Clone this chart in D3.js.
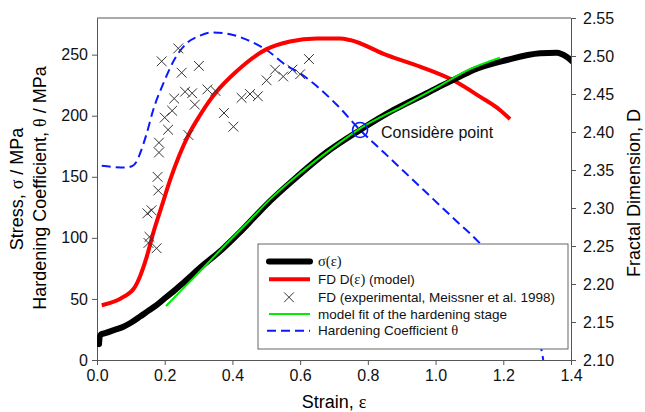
<!DOCTYPE html>
<html>
<head>
<meta charset="utf-8">
<script src="https://cdn.jsdelivr.net/npm/d3@7"></script>
<style>
  body { margin: 0; background: #fff; }
  svg { font-family: "Liberation Sans", Arial, sans-serif; }
  .axis path, .axis line { stroke: #555; }
  .axis text { fill: #111; font-size: 16px; }
</style>
</head>
<body>
<div id="chart"></div>
<script>
// ---------------- data ----------------
// stress-strain curve sigma(eps), MPa (left axis)
const sigmaCurve = [[0.006,13],[0.008,19],[0.012,21],[0.024,22],[0.05,24.5],[0.078,27.3],[0.1,30.5],
  [0.127,35.5],[0.15,40],[0.176,45],[0.206,51.8],[0.225,56],[0.25,62],[0.275,68.2],[0.3,74.5],
  [0.373,91.4],[0.42,104],[0.472,119],[0.511,130],[0.58,147.4],[0.679,170.3],[0.777,188.3],
  [0.876,204.7],[0.974,218.4],[1.013,224],[1.072,232],[1.112,237.4],[1.21,245.6],[1.309,251.1],
  [1.358,251.6],[1.387,248.3],[1.405,244.2]];
// model fit of the hardening stage, MPa (left axis)
const fitCurve = [[0.204,44.2],[0.225,50.2],[0.3,71.4],[0.373,92.5],[0.45,114],[0.511,131.5],
  [0.6,153],[0.7,174.5],[0.78,190],[0.9,207.5],[1.0,222.5],[1.1,238],[1.19,247.5]];
// hardening coefficient theta, MPa (left axis)
const thetaCurve = [[0.014,159],[0.05,158],[0.083,157.5],[0.105,159],[0.118,163],[0.127,169],
  [0.147,185.6],[0.166,204.7],[0.196,226.5],[0.225,244.2],[0.265,259.3],[0.304,265.5],[0.34,268.2],
  [0.393,266.7],[0.44,262.5],[0.501,253.8],[0.56,241],[0.6,234.7],[0.639,226.5],[0.708,209],
  [0.777,188.3],[0.85,169.2],[0.924,149.8],[0.993,131.7],[1.062,113.6],[1.131,95.5],[1.2,72],
  [1.26,46],[1.3,22],[1.313,8],[1.318,0]];
// fractal dimension model D(eps) (right axis)
const fdModel = [[0.014,2.172],[0.078,2.183],[0.112,2.196],[0.127,2.210],[0.147,2.236],[0.166,2.267],
  [0.191,2.302],[0.216,2.337],[0.27,2.396],[0.304,2.422],[0.329,2.439],[0.353,2.453],[0.41,2.479],
  [0.501,2.509],[0.57,2.519],[0.649,2.523],[0.718,2.523],[0.747,2.521],[0.856,2.501],[0.954,2.486],
  [1.052,2.468],[1.131,2.4465],[1.19,2.429],[1.22,2.417]];
// experimental fractal dimension (Meissner et al. 1998), right axis
const fdExp = [[0.191,2.493],[0.240,2.510],[0.250,2.478],[0.301,2.487],[0.228,2.444],[0.260,2.453],
  [0.281,2.451],[0.326,2.456],[0.350,2.454],[0.289,2.436],[0.222,2.428],[0.200,2.419],[0.210,2.403],
  [0.270,2.396],[0.183,2.386],[0.183,2.373],[0.179,2.341],[0.181,2.323],[0.161,2.297],[0.149,2.293],
  [0.155,2.262],[0.152,2.254],[0.176,2.247],[0.375,2.425],[0.403,2.407],[0.427,2.445],[0.452,2.450],
  [0.475,2.447],[0.501,2.468],[0.526,2.482],[0.550,2.473],[0.577,2.482],[0.600,2.476],[0.626,2.496]];
const considere = [0.777, 188.3];

const xTicks = [0, 0.2, 0.4, 0.6, 0.8, 1.0, 1.2, 1.4];
const yLeftTicks = [0, 50, 100, 150, 200, 250];
const yRightTicks = [2.10, 2.15, 2.20, 2.25, 2.30, 2.35, 2.40, 2.45, 2.50, 2.55];

// ---------------- layout ----------------
const W = 645, H = 412;
const margin = {top: 18, right: 74, bottom: 52, left: 97};
const width = W - margin.left - margin.right;
const height = H - margin.top - margin.bottom;

const svg = d3.select("#chart").append("svg")
    .attr("width", W).attr("height", H);
const g = svg.append("g")
    .attr("transform", "translate(" + margin.left + "," + margin.top + ")");

const x = d3.scaleLinear().domain([0, 1.4]).range([0, width]);
const yL = d3.scaleLinear().domain([0, 280]).range([height, 0]);
const yR = d3.scaleLinear().domain([2.10, 2.55]).range([height, 0]);

g.append("clipPath").attr("id", "plotclip")
  .append("rect").attr("width", width).attr("height", height);

// frame top
g.append("line").attr("x1", 0).attr("x2", width).attr("y1", 0).attr("y2", 0)
    .attr("stroke", "#555");

// ---------------- axes ----------------
g.append("g").attr("class", "axis")
    .attr("transform", "translate(0," + height + ")")
    .call(d3.axisBottom(x).tickValues(xTicks).tickFormat(d3.format(".1f"))
      .tickSize(5).tickSizeOuter(0).tickPadding(5));

g.append("g").attr("class", "axis")
    .call(d3.axisLeft(yL).tickValues(yLeftTicks).tickSize(5).tickSizeOuter(0).tickPadding(4));

g.append("g").attr("class", "axis")
    .attr("transform", "translate(" + width + ",0)")
    .call(d3.axisRight(yR).tickValues(yRightTicks).tickFormat(d3.format(".2f"))
      .tickSize(5).tickSizeOuter(0).tickPadding(7));

// axis titles
const greek = "'Liberation Serif', 'Times New Roman', serif";
const xt = svg.append("text").attr("x", margin.left + width / 2).attr("y", 408)
    .attr("text-anchor", "middle").attr("font-size", 18);
xt.append("tspan").text("Strain, ");
xt.append("tspan").attr("font-family", greek).text("ε");

const yt1 = svg.append("text")
    .attr("transform", "translate(23,189) rotate(-90)")
    .attr("text-anchor", "middle").attr("font-size", 18);
yt1.append("tspan").text("Stress, ");
yt1.append("tspan").attr("font-family", greek).text("σ");
yt1.append("tspan").text(" / MPa");

const yt2 = svg.append("text")
    .attr("transform", "translate(46,188) rotate(-90)")
    .attr("text-anchor", "middle").attr("font-size", 18);
yt2.append("tspan").text("Hardening Coefficient, ");
yt2.append("tspan").attr("font-family", greek).text("θ");
yt2.append("tspan").text(" / MPa");

svg.append("text")
    .attr("transform", "translate(640,193) rotate(-90)")
    .attr("text-anchor", "middle").attr("font-size", 18)
    .text("Fractal Dimension, D");

// ---------------- lines ----------------
const lineL = d3.line().x(d => x(d[0])).y(d => yL(d[1])).curve(d3.curveMonotoneX);
const lineR = d3.line().x(d => x(d[0])).y(d => yR(d[1])).curve(d3.curveMonotoneX);

const plot = g.append("g").attr("clip-path", "url(#plotclip)");

plot.append("path").datum(thetaCurve).attr("d", lineL)
    .attr("fill", "none").attr("stroke", "#0a1aff").attr("stroke-width", 2)
    .attr("stroke-dasharray", "9,5");

plot.append("path").datum(fdModel).attr("d", lineR)
    .attr("fill", "none").attr("stroke", "#ff0000").attr("stroke-width", 4)
    .attr("stroke-linejoin", "round");

plot.append("path").datum(sigmaCurve).attr("d", lineL)
    .attr("fill", "none").attr("stroke", "#000").attr("stroke-width", 6)
    .attr("stroke-linecap", "round").attr("stroke-linejoin", "round");

plot.append("path").datum(fitCurve).attr("d", lineL)
    .attr("fill", "none").attr("stroke", "#00ee00").attr("stroke-width", 2);

// experimental markers (x shapes)
const xMark = d3.symbol().type(d3.symbolTimes).size(64);
plot.selectAll(".exp").data(fdExp).enter().append("path")
    .attr("class", "exp")
    .attr("d", xMark)
    .attr("transform", d => "translate(" + x(d[0]) + "," + yR(d[1]) + ")")
    .attr("fill", "none").attr("stroke", "#333").attr("stroke-width", 1);

// Considère point
g.append("circle")
    .attr("cx", x(considere[0])).attr("cy", yL(considere[1])).attr("r", 7.5)
    .attr("fill", "none").attr("stroke", "#0a1aff").attr("stroke-width", 1.6);
g.append("text")
    .attr("x", x(considere[0]) + 21).attr("y", yL(considere[1]) + 8)
    .attr("font-size", 16).attr("fill", "#111")
    .text("Considère point");

// ---------------- legend ----------------
const legend = svg.append("g").attr("transform", "translate(258,244)");
legend.append("rect").attr("width", 310).attr("height", 105)
    .attr("fill", "#fff").attr("stroke", "#666").attr("stroke-width", 1);

const items = ["black", "red", "mark", "green", "blue"];
const rowY = [17.5, 35.3, 53.3, 70, 86.7];

items.forEach(function(type, i) {
  const row = legend.append("g").attr("transform", "translate(0," + rowY[i] + ")");
  if (type === "mark") {
    row.append("path").attr("d", xMark).attr("transform", "translate(31,0)")
      .attr("fill", "none").attr("stroke", "#333").attr("stroke-width", 1);
  } else {
    const ln = row.append("line").attr("x1", 11).attr("x2", 52).attr("y1", 0).attr("y2", 0);
    if (type === "black") ln.attr("stroke", "#000").attr("stroke-width", 6).attr("stroke-linecap", "round");
    if (type === "red") ln.attr("stroke", "#ff0000").attr("stroke-width", 4);
    if (type === "green") ln.attr("stroke", "#00ee00").attr("stroke-width", 2);
    if (type === "blue") ln.attr("x1", 9).attr("stroke", "#0a1aff").attr("stroke-width", 2).attr("stroke-dasharray", "9,5");
  }
  const t = row.append("text").attr("x", 60).attr("y", 4.5).attr("font-size", 13.5).attr("fill", "#111");
  if (type === "black") {
    t.append("tspan").attr("font-family", greek).attr("font-size", 14.5).text("σ(ε)");
  } else if (type === "red") {
    t.append("tspan").text("FD D");
    t.append("tspan").attr("font-family", greek).attr("font-size", 14.5).text("(ε)");
    t.append("tspan").text(" (model)");
  } else if (type === "blue") {
    t.append("tspan").text("Hardening Coefficient ");
    t.append("tspan").attr("font-family", greek).attr("font-size", 14.5).text("θ");
  } else if (type === "mark") {
    t.text("FD (experimental, Meissner et al. 1998)");
  } else {
    t.text("model fit of the hardening stage");
  }
});
</script>
</body>
</html>
